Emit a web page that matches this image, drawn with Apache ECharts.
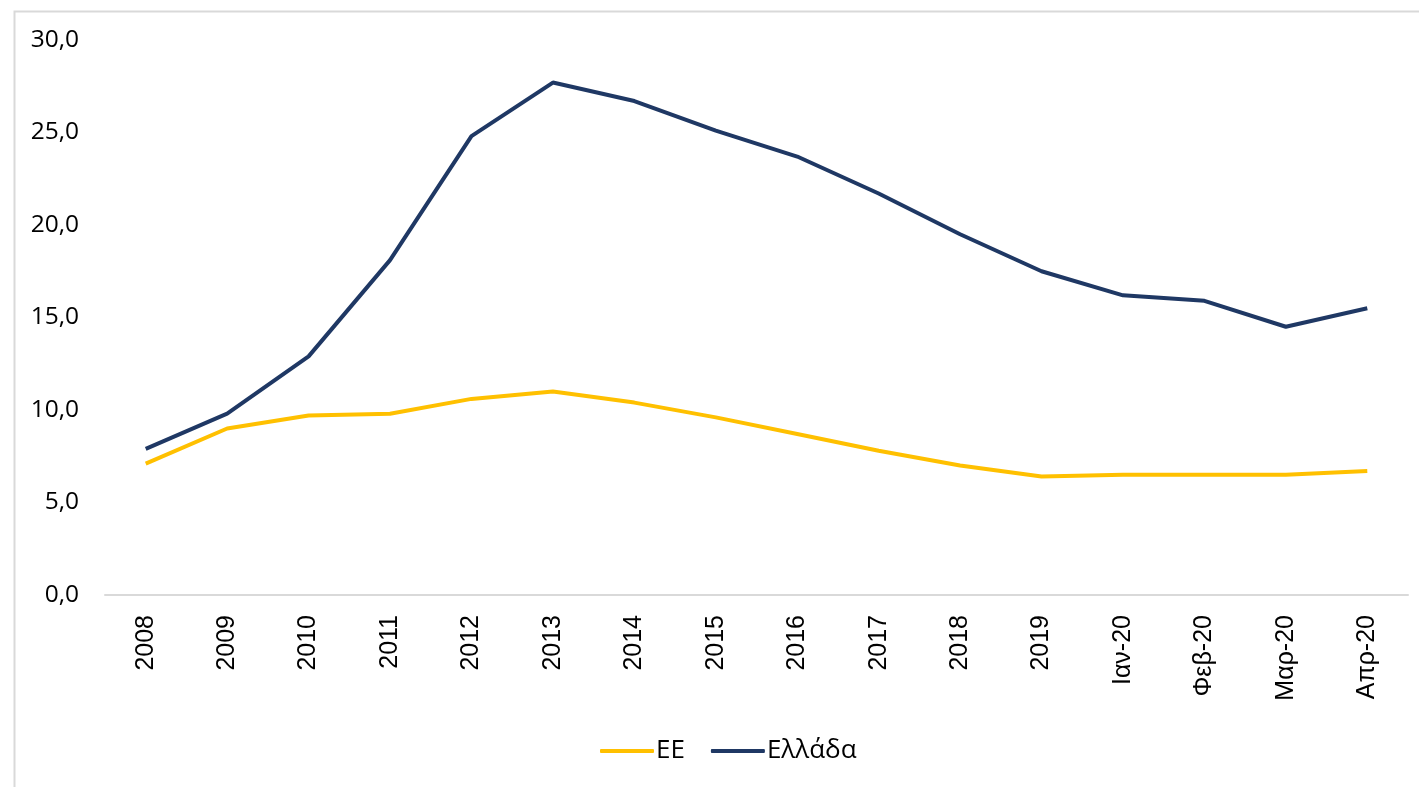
<!DOCTYPE html>
<html>
<head>
<meta charset="utf-8">
<script src="https://cdn.jsdelivr.net/npm/echarts@6/dist/echarts.min.js"></script>
<style>html,body{margin:0;padding:0;background:#fff;}#c{width:1419px;height:787px;}</style>
</head>
<body>
<div id="c"></div>
<script>
const categories = ['2008','2009','2010','2011','2012','2013','2014','2015','2016','2017','2018','2019','Ιαν-20','Φεβ-20','Μαρ-20','Απρ-20'];
const seriesEU = [7.1, 9.0, 9.7, 9.8, 10.6, 11.0, 10.4, 9.6, 8.7, 7.8, 7.0, 6.4, 6.5, 6.5, 6.5, 6.7];
const seriesGR = [7.9, 9.8, 12.9, 18.1, 24.8, 27.7, 26.7, 25.1, 23.7, 21.7, 19.5, 17.5, 16.2, 15.9, 14.5, 15.5];
const seriesNames = ['ΕΕ', 'Ελλάδα'];
const colors = ['#FFC000', '#1F3864'];

const chart = echarts.init(document.getElementById('c'));
chart.setOption({
  animation: false,
  backgroundColor: '#fff',
  graphic: [{
    type: 'rect', left: 12, top: 9, z: -1,
    shape: { width: 1440, height: 800 },
    style: { fill: 'none', stroke: '#d9d9d9', lineWidth: 2 }
  }],
  grid: { left: 105, right: 11, top: 40, bottom: 192, containLabel: false },
  legend: {
    bottom: 18, left: 595,
    itemWidth: 54, itemHeight: 4, itemGap: 26,
    icon: 'roundRect',
    textStyle: { fontFamily: 'Open Sans', fontSize: 26, color: '#000', padding: [0, 0, 0, -3] },
    data: seriesNames
  },
  xAxis: {
    type: 'category', data: categories, boundaryGap: true,
    axisLine: { lineStyle: { color: '#d9d9d9', width: 2 } },
    axisTick: { show: false },
    axisLabel: { rotate: 90, margin: 20, fontFamily: 'Liberation Sans, Arial', fontSize: 25, color: '#000', interval: 0 }
  },
  yAxis: {
    type: 'value', min: 0, max: 30, interval: 5,
    splitLine: { show: false },
    axisLine: { show: false }, axisTick: { show: false },
    axisLabel: { margin: 26, fontFamily: 'Open Sans', fontSize: 24.5, color: '#000',
      formatter: v => v.toFixed(1).replace('.', ',') }
  },
  series: [
    { name: seriesNames[0], type: 'line', data: seriesEU, symbol: 'none', lineStyle: { color: colors[0], width: 4 }, itemStyle: { color: colors[0] } },
    { name: seriesNames[1], type: 'line', data: seriesGR, symbol: 'none', lineStyle: { color: colors[1], width: 4 }, itemStyle: { color: colors[1] } }
  ]
});
</script>
</body>
</html>
